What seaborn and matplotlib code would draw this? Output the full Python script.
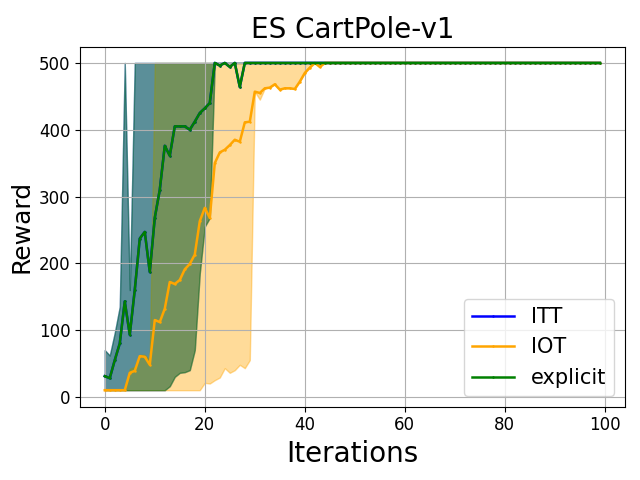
import numpy as np
import pandas as pd
import seaborn as sns
import matplotlib
matplotlib.use('Agg')
import matplotlib.pyplot as plt

iterations = list(range(100))

# explicit (ITT gives the same curve, it sits hidden under the green one)
explicit_mean = [31, 28, 55, 80, 143, 93, 160, 237, 247, 187,
                 268, 310, 376, 361, 405, 405, 405, 400, 412, 425,
                 432, 440, 500, 496, 500, 494, 500, 464] + [500] * 72
explicit_low = [10, 10, 10, 10, 10, 10, 10, 10, 10, 10,
                10, 10, 10, 16, 30, 36, 37, 40, 70, 185,
                255, 268] + [500] * 78
explicit_high = [70, 62, 96, 135, 500, 160] + [500] * 94

itt_mean = explicit_mean
itt_low = explicit_low
itt_high = explicit_high

iot_mean = [10, 10, 10, 10, 10, 36, 39, 61, 60, 48,
            115, 112, 132, 172, 169, 175, 191, 199, 213, 263,
            283, 268, 350, 366, 370, 377, 385, 382, 411, 412,
            457, 455, 462, 463, 468, 460, 462, 462, 461, 472,
            485, 493, 500, 494] + [500] * 56
iot_low = [10] * 20 + [21, 20, 25, 29, 43, 36, 40, 48, 43, 55,
                       457, 445, 462, 463, 468, 460, 462, 462, 461, 472,
                       485, 493, 500, 494] + [500] * 56
iot_high = [11, 11, 11, 11, 11, 42, 45, 63, 63, 55] + [500] * 90

series = [
    ('ITT', 'blue', itt_mean, itt_low, itt_high),
    ('IOT', 'orange', iot_mean, iot_low, iot_high),
    ('explicit', 'green', explicit_mean, explicit_low, explicit_high),
]

fig, ax = plt.subplots(figsize=(6.4, 4.8), dpi=100)

for name, color, mean, low, high in series:
    df = pd.DataFrame({'Iterations': iterations, 'Reward': mean})
    sns.lineplot(data=df, x='Iterations', y='Reward', color=color, label=name,
                 marker='.', markersize=2, markeredgecolor=color,
                 linewidth=1.8, ax=ax)
    ax.fill_between(iterations, low, high, color=color, alpha=0.4)

ax.grid(True)
ax.set_title('ES CartPole-v1', fontsize=20)
ax.set_xlabel('Iterations', fontsize=20)
ax.set_ylabel('Reward', fontsize=18)
ax.tick_params(labelsize=12)
ax.legend(loc='lower right', fontsize=15)
fig.subplots_adjust(left=0.125, right=0.976, top=0.903, bottom=0.153)
plt.savefig('out.png')
